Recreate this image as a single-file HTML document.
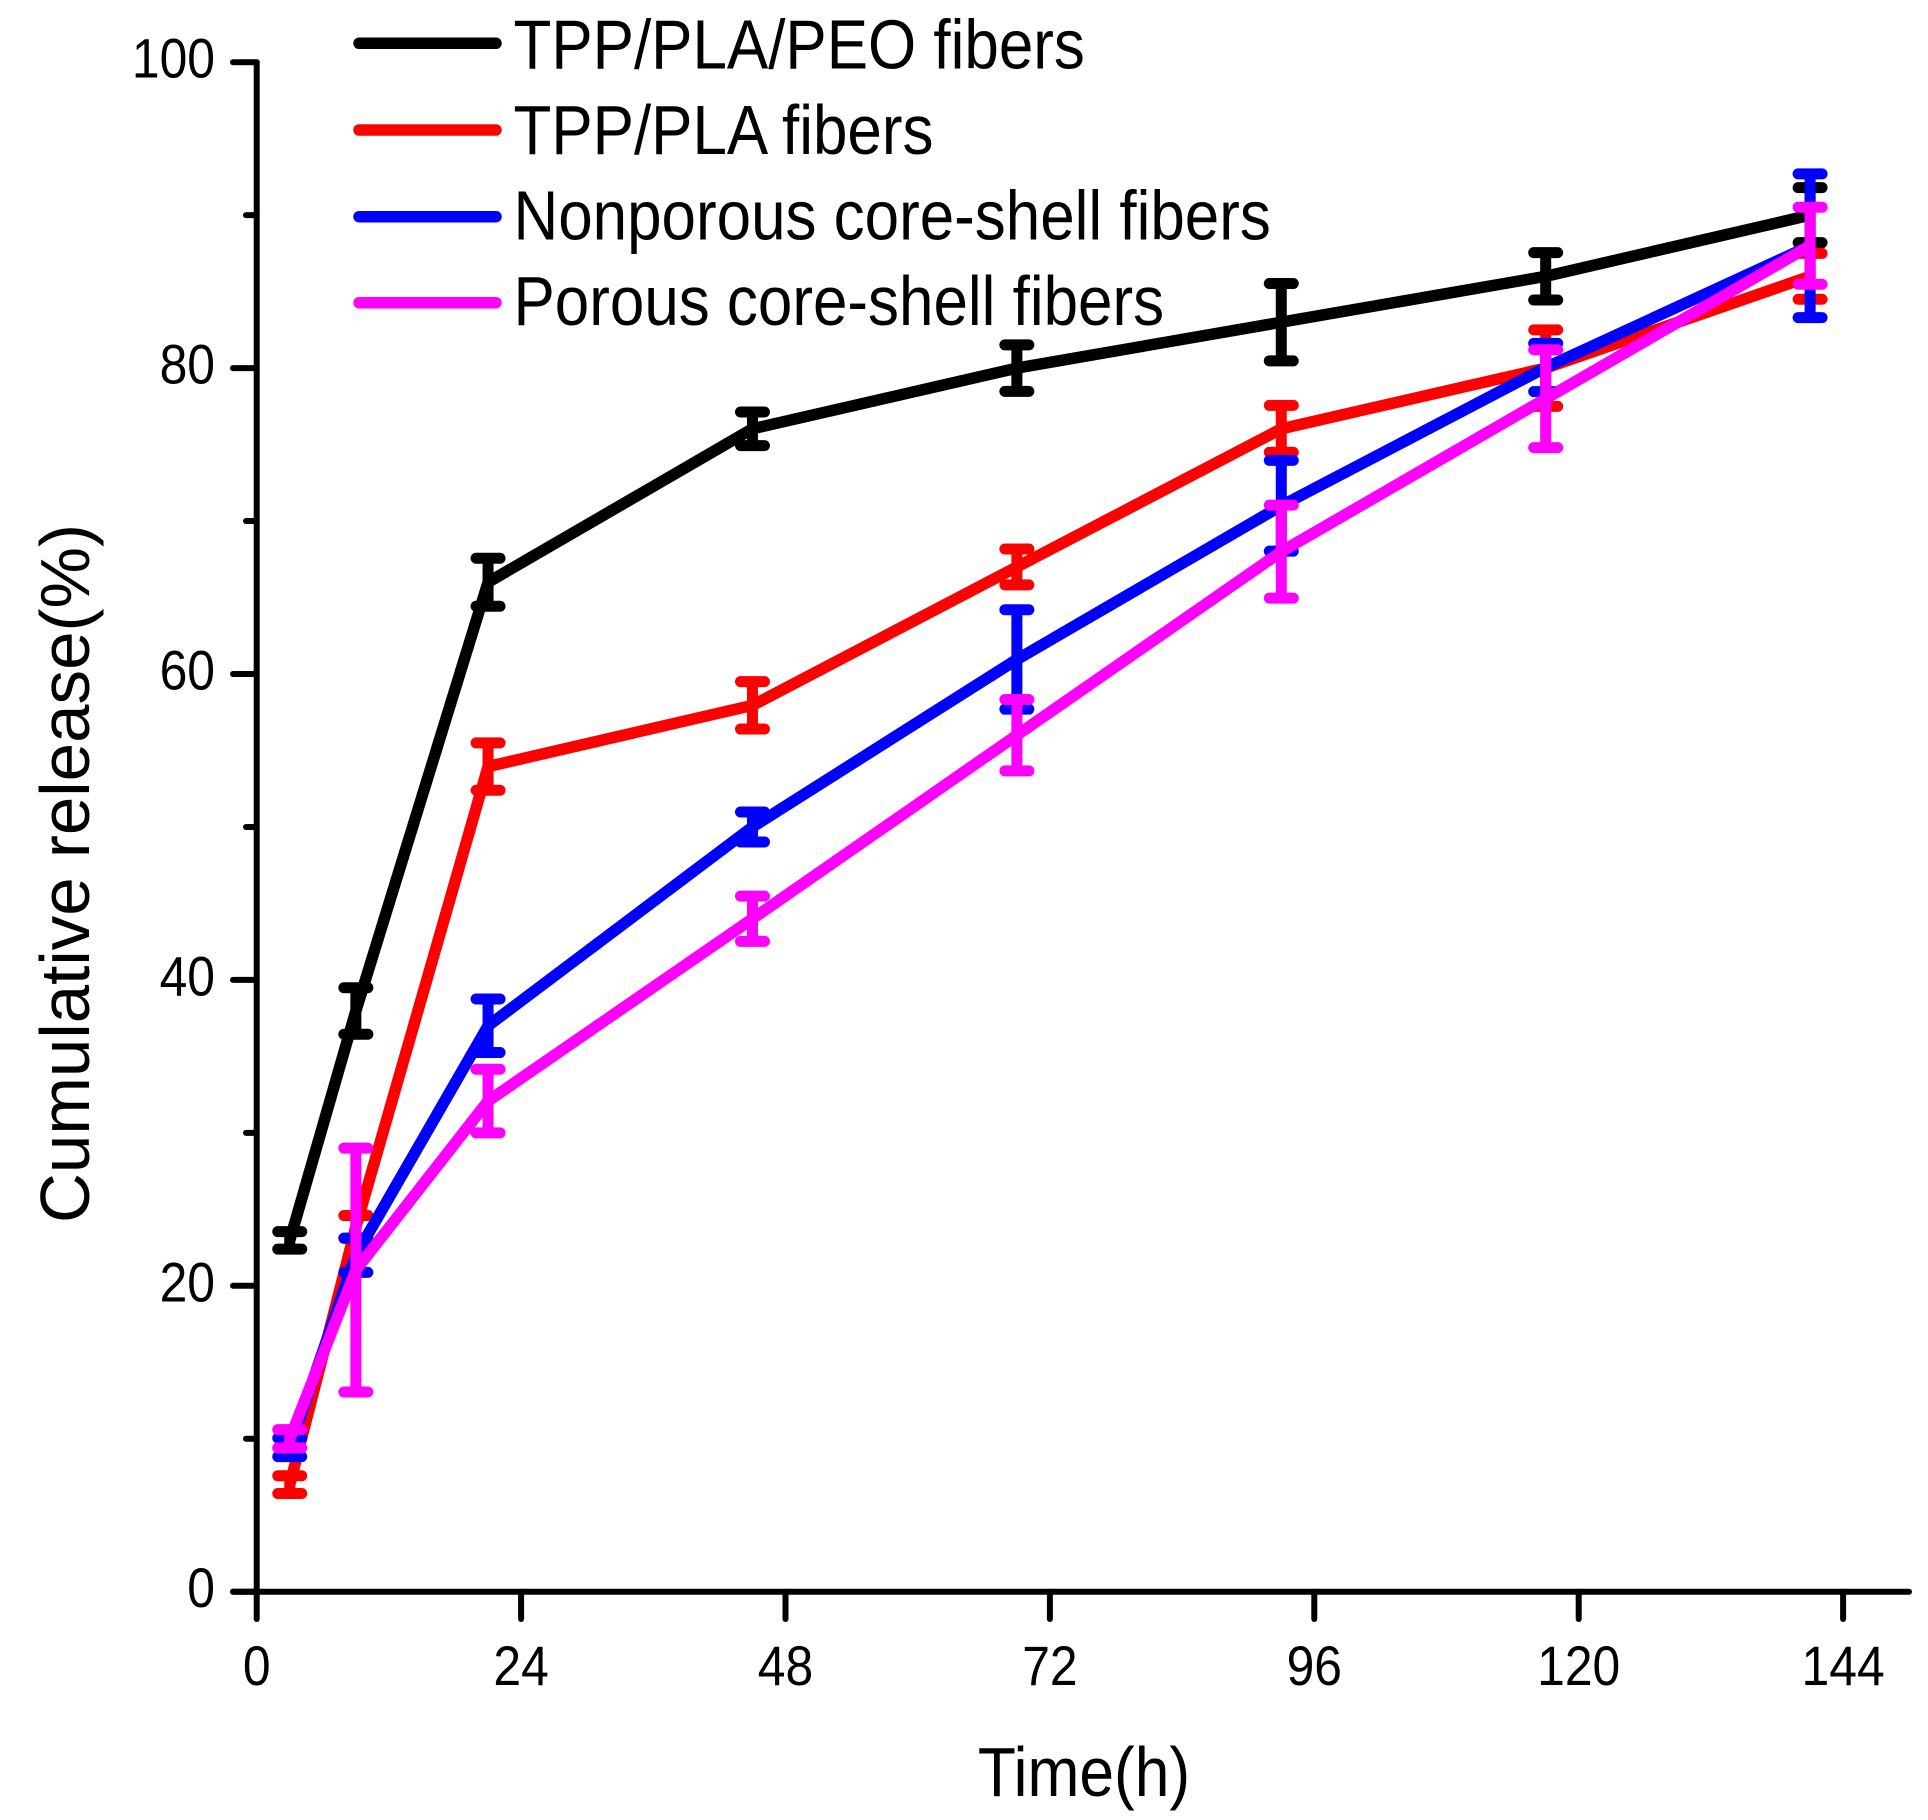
<!DOCTYPE html>
<html>
<head>
<meta charset="utf-8">
<style>
html,body{margin:0;padding:0;background:#fff;}
svg{display:block;}
text{font-family:"Liberation Sans", Arial, sans-serif;fill:#000;}
</style>
</head>
<body>
<svg width="1928" height="1820" viewBox="0 0 1928 1820" xmlns="http://www.w3.org/2000/svg">
<rect width="1928" height="1820" fill="#fff"/>

<!-- axes -->
<g stroke="#000" stroke-width="6" stroke-linecap="round" fill="none">
  <line x1="256.7" y1="62.2" x2="256.7" y2="1619"/>
  <line x1="233" y1="1591.7" x2="1909" y2="1591.7"/>
  <!-- y major ticks -->
  <line x1="233" y1="1591.7" x2="256.7" y2="1591.7"/>
  <line x1="233" y1="1285.8" x2="256.7" y2="1285.8"/>
  <line x1="233" y1="979.9" x2="256.7" y2="979.9"/>
  <line x1="233" y1="674.0" x2="256.7" y2="674.0"/>
  <line x1="233" y1="368.1" x2="256.7" y2="368.1"/>
  <line x1="233" y1="62.2" x2="256.7" y2="62.2"/>
  <!-- y minor ticks -->
  <line x1="246" y1="1438.75" x2="256.7" y2="1438.75"/>
  <line x1="246" y1="1132.85" x2="256.7" y2="1132.85"/>
  <line x1="246" y1="826.95" x2="256.7" y2="826.95"/>
  <line x1="246" y1="521.05" x2="256.7" y2="521.05"/>
  <line x1="246" y1="215.15" x2="256.7" y2="215.15"/>
  <!-- x ticks -->
  <line x1="521.1" y1="1591.7" x2="521.1" y2="1619"/>
  <line x1="785.5" y1="1591.7" x2="785.5" y2="1619"/>
  <line x1="1049.9" y1="1591.7" x2="1049.9" y2="1619"/>
  <line x1="1314.3" y1="1591.7" x2="1314.3" y2="1619"/>
  <line x1="1578.7" y1="1591.7" x2="1578.7" y2="1619"/>
  <line x1="1843.1" y1="1591.7" x2="1843.1" y2="1619"/>
</g>

<!-- y tick labels -->
<g font-size="56" text-anchor="end">
  <text transform="translate(215,1607.2) scale(0.89,1)">0</text>
  <text transform="translate(215,1301.3) scale(0.89,1)">20</text>
  <text transform="translate(215,995.4) scale(0.89,1)">40</text>
  <text transform="translate(215,689.5) scale(0.89,1)">60</text>
  <text transform="translate(215,383.6) scale(0.89,1)">80</text>
  <text transform="translate(215,77.7) scale(0.89,1)">100</text>
</g>

<!-- x tick labels -->
<g font-size="56" text-anchor="middle">
  <text transform="translate(256.7,1685) scale(0.89,1)">0</text>
  <text transform="translate(521.1,1685) scale(0.89,1)">24</text>
  <text transform="translate(785.5,1685) scale(0.89,1)">48</text>
  <text transform="translate(1049.9,1685) scale(0.89,1)">72</text>
  <text transform="translate(1314.3,1685) scale(0.89,1)">96</text>
  <text transform="translate(1578.7,1685) scale(0.89,1)">120</text>
  <text transform="translate(1843.1,1685) scale(0.89,1)">144</text>
</g>

<!-- axis titles -->
<text font-size="70" text-anchor="middle" transform="translate(1084,1796) scale(0.89,1)">Time(h)</text>
<text font-size="70" transform="translate(89,1223) rotate(-90)" textLength="699" lengthAdjust="spacingAndGlyphs">Cumulative release(%)</text>

<!-- series: black -->
<g stroke="#000" stroke-width="11.5" fill="none">
  <polyline points="289.75,1240.37 355.85,1010.95 488.06,582.23 752.47,428.82 1016.87,368.1 1281.28,322.21 1545.69,276.33 1810.1,215.15"/>
  <g stroke-width="11" stroke-linecap="round">
    <path d="M289.75,1231.66V1249.09M277.75,1231.66H301.75M277.75,1249.09H301.75"/>
    <path d="M355.85,987.7V1034.2M343.85,987.7H367.85M343.85,1034.2H367.85"/>
    <path d="M488.06,558.22V606.24M476.06,558.22H500.06M476.06,606.24H500.06"/>
    <path d="M752.47,412V445.65M740.47,412H764.47M740.47,445.65H764.47"/>
    <path d="M1016.87,344.85V391.35M1004.87,344.85H1028.87M1004.87,391.35H1028.87"/>
    <path d="M1281.28,283.52V360.91M1269.28,283.52H1293.28M1269.28,360.91H1293.28"/>
    <path d="M1545.69,252.62V300.04M1533.69,252.62H1557.69M1533.69,300.04H1557.69"/>
    <path d="M1810.1,187.62V242.68M1798.1,187.62H1822.1M1798.1,242.68H1822.1"/>
  </g>
</g>

<!-- series: red -->
<g stroke="#ff0000" stroke-width="11.5" fill="none">
  <polyline points="289.75,1484.63 355.85,1226.91 488.06,766.53 752.47,705.35 1016.87,566.93 1281.28,428.82 1545.69,368.1 1810.1,276.33"/>
  <g stroke-width="11" stroke-linecap="round">
    <path d="M289.75,1475.76V1493.51M277.75,1475.76H301.75M277.75,1493.51H301.75"/>
    <path d="M355.85,1215.44V1238.39M343.85,1215.44H367.85M343.85,1238.39H367.85"/>
    <path d="M488.06,742.83V790.24M476.06,742.83H500.06M476.06,790.24H500.06"/>
    <path d="M752.47,681.65V729.06M740.47,681.65H764.47M740.47,729.06H764.47"/>
    <path d="M1016.87,549.04V584.83M1004.87,549.04H1028.87M1004.87,584.83H1028.87"/>
    <path d="M1281.28,405.42V452.22M1269.28,405.42H1293.28M1269.28,452.22H1293.28"/>
    <path d="M1545.69,329.86V406.34M1533.69,329.86H1557.69M1533.69,406.34H1557.69"/>
    <path d="M1810.1,253.39V299.27M1798.1,253.39H1822.1M1798.1,299.27H1822.1"/>
  </g>
</g>

<!-- series: blue -->
<g stroke="#0000ff" stroke-width="11.5" fill="none">
  <polyline points="289.75,1447.32 355.85,1255.21 488.06,1025.78 752.47,826.95 1016.87,659.47 1281.28,505.75 1545.69,367.49 1810.1,245.74"/>
  <g stroke-width="11" stroke-linecap="round">
    <path d="M289.75,1437.99V1456.65M277.75,1437.99H301.75M277.75,1456.65H301.75"/>
    <path d="M355.85,1238.08V1272.34M343.85,1238.08H367.85M343.85,1272.34H367.85"/>
    <path d="M488.06,999.02V1052.55M476.06,999.02H500.06M476.06,1052.55H500.06"/>
    <path d="M752.47,811.96V841.94M740.47,811.96H764.47M740.47,841.94H764.47"/>
    <path d="M1016.87,609.76V709.18M1004.87,609.76H1028.87M1004.87,709.18H1028.87"/>
    <path d="M1281.28,460.33V551.18M1269.28,460.33H1293.28M1269.28,551.18H1293.28"/>
    <path d="M1545.69,343.32V391.65M1533.69,343.32H1557.69M1533.69,391.65H1557.69"/>
    <path d="M1810.1,173.85V317.63M1798.1,173.85H1822.1M1798.1,317.63H1822.1"/>
  </g>
</g>

<!-- series: magenta -->
<g stroke="#ff00ff" stroke-width="11.5" fill="none">
  <polyline points="289.75,1438.75 355.85,1270.05 488.06,1101.04 752.47,918.72 1016.87,735.18 1281.28,551.64 1545.69,398.69 1810.1,245.74"/>
  <g stroke-width="11" stroke-linecap="round">
    <path d="M289.75,1429.57V1447.93M277.75,1429.57H301.75M277.75,1447.93H301.75"/>
    <path d="M355.85,1148.14V1391.95M343.85,1148.14H367.85M343.85,1391.95H367.85"/>
    <path d="M488.06,1069.22V1132.85M476.06,1069.22H500.06M476.06,1132.85H500.06"/>
    <path d="M752.47,896.08V941.36M740.47,896.08H764.47M740.47,941.36H764.47"/>
    <path d="M1016.87,699.54V770.82M1004.87,699.54H1028.87M1004.87,770.82H1028.87"/>
    <path d="M1281.28,505.14V598.14M1269.28,505.14H1293.28M1269.28,598.14H1293.28"/>
    <path d="M1545.69,349.75V447.63M1533.69,349.75H1557.69M1533.69,447.63H1557.69"/>
    <path d="M1810.1,207.2V284.28M1798.1,207.2H1822.1M1798.1,284.28H1822.1"/>
  </g>
</g>

<!-- legend -->
<g stroke-width="11.5" stroke-linecap="round">
  <line x1="359" y1="43.3" x2="496" y2="43.3" stroke="#000"/>
  <line x1="359" y1="130" x2="496" y2="130" stroke="#ff0000"/>
  <line x1="359" y1="216.7" x2="496" y2="216.7" stroke="#0000ff"/>
  <line x1="359" y1="302.7" x2="496" y2="302.7" stroke="#ff00ff"/>
</g>
<g font-size="70">
  <text transform="translate(513.5,68.3) scale(0.885,1)">TPP/PLA/PEO fibers</text>
  <text transform="translate(513.5,154) scale(0.885,1)">TPP/PLA fibers</text>
  <text transform="translate(513.5,239.3) scale(0.885,1)">Nonporous core-shell fibers</text>
  <text transform="translate(513.5,325) scale(0.885,1)">Porous core-shell fibers</text>
</g>
</svg>
</body>
</html>
